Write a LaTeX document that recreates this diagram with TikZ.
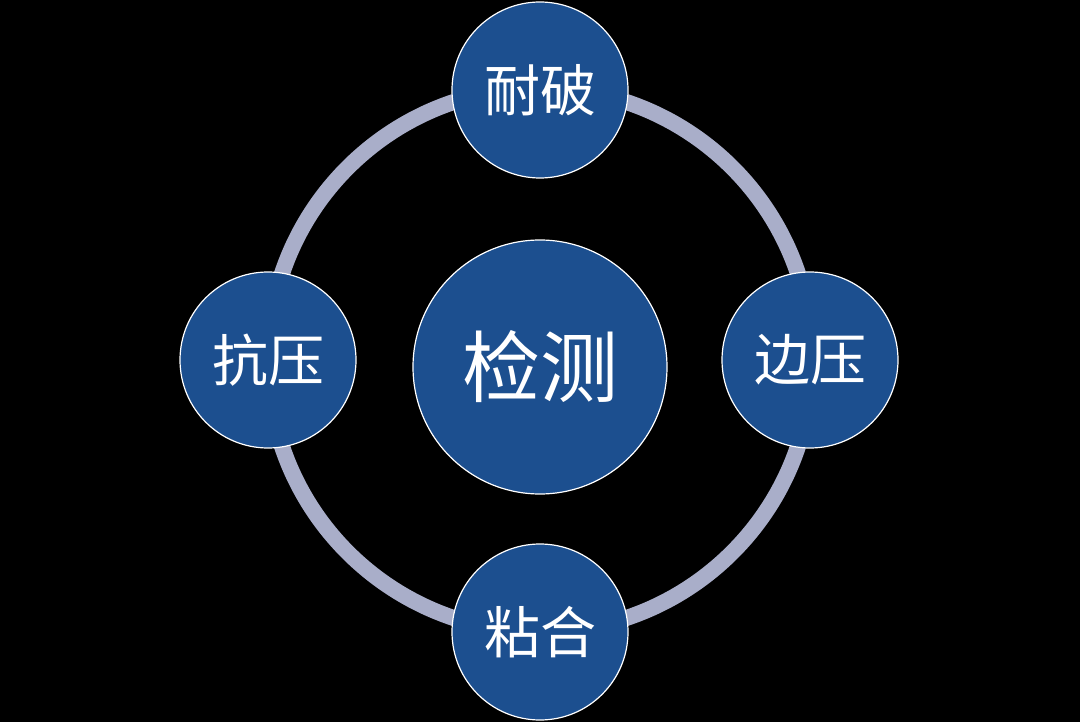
\documentclass[tikz,border=0pt]{standalone}
\usepackage{fontspec}
\newfontfamily\cjk{Noto Sans CJK SC}
\definecolor{ringc}{HTML}{A9AEC9}
\definecolor{bluec}{HTML}{1C4F8F}
\begin{document}
\begin{tikzpicture}[x=1pt,y=-1pt,
  bub/.style={circle,fill=bluec,draw=white,line width=1.2pt,text=white,inner sep=0pt,font=\cjk\fontsize{56}{60}\selectfont,minimum size=176pt}]
\fill[black] (0,0) rectangle (1080,722);
\useasboundingbox (0,0) rectangle (1080,722);
\node[circle,draw=ringc,line width=16pt,minimum size=544pt,inner sep=0pt] (ring) at (540,360) {};
\node[bub,minimum size=254pt,font=\cjk\fontsize{78}{84}\selectfont] (c) at (540,367) {检测};
\node[bub] (t) at (540,90) {耐破};
\node[bub] (l) at (268,360) {抗压};
\node[bub] (r) at (810,360) {边压};
\node[bub] (b) at (540,632) {粘合};
\end{tikzpicture}
\end{document}
